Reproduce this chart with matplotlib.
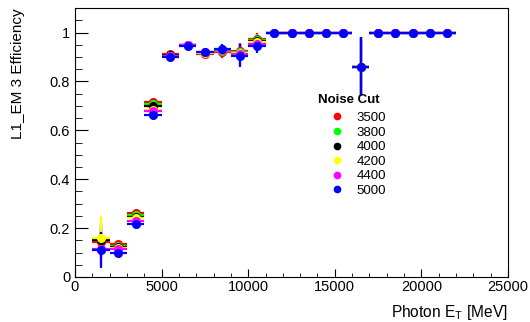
import matplotlib
matplotlib.use('Agg')
import matplotlib.pyplot as plt
from matplotlib.lines import Line2D
from matplotlib.ticker import MultipleLocator

plt.rcParams['font.family'] = ['Liberation Sans', 'DejaVu Sans']

# bin centres of photon E_T [MeV], bin width 1000
et = [1500, 2500, 3500, 4500, 5500, 6500, 7500, 8500, 9500, 10500,
      11500, 12500, 13500, 14500, 15500, 16500, 17500, 18500, 19500, 20500, 21500]
et_err = [500] * len(et)

tail = [1, 1, 1, 1, 1, 0.86, 1, 1, 1, 1, 1]
tail_err = [0, 0, 0, 0, 0, 0.12, 0, 0, 0, 0, 0]

cuts = ['3500', '3800', '4000', '4200', '4400', '5000']
colors = ['#ff0000', '#00ff00', '#000000', '#ffff00', '#ff00ff', '#0000ff']

eff = {
    '3500': [0.145, 0.133, 0.262, 0.716, 0.913, 0.950, 0.913, 0.920, 0.924, 0.974] + tail,
    '3800': [0.150, 0.126, 0.252, 0.709, 0.910, 0.950, 0.915, 0.925, 0.920, 0.970] + tail,
    '4000': [0.150, 0.121, 0.245, 0.698, 0.908, 0.949, 0.917, 0.928, 0.918, 0.965] + tail,
    '4200': [0.158, 0.120, 0.240, 0.684, 0.906, 0.948, 0.918, 0.930, 0.915, 0.960] + tail,
    '4400': [0.115, 0.115, 0.230, 0.679, 0.905, 0.948, 0.920, 0.930, 0.912, 0.955] + tail,
    '5000': [0.110, 0.099, 0.216, 0.661, 0.899, 0.947, 0.920, 0.933, 0.906, 0.947] + tail,
}
eff_err = {
    '3500': [0.05, 0.015, 0.012, 0.010, 0.008, 0.008, 0.015, 0.025, 0.030, 0.025] + tail_err,
    '3800': [0.06, 0.015, 0.012, 0.010, 0.008, 0.008, 0.015, 0.024, 0.032, 0.026] + tail_err,
    '4000': [0.07, 0.015, 0.012, 0.010, 0.008, 0.008, 0.015, 0.023, 0.035, 0.027] + tail_err,
    '4200': [0.09, 0.015, 0.012, 0.010, 0.008, 0.008, 0.015, 0.022, 0.040, 0.028] + tail_err,
    '4400': [0.07, 0.015, 0.012, 0.010, 0.008, 0.008, 0.015, 0.021, 0.044, 0.029] + tail_err,
    '5000': [0.075, 0.015, 0.012, 0.010, 0.008, 0.008, 0.015, 0.020, 0.048, 0.030] + tail_err,
}

fig = plt.figure(figsize=(5.3, 3.22), dpi=100)
ax = fig.add_axes([0.1415, 0.1398, 0.817, 0.835])

for cut, col in zip(cuts, colors):
    ax.errorbar(et, eff[cut], xerr=et_err, yerr=eff_err[cut], fmt='o', color=col,
                markersize=5.5, elinewidth=1.6, capsize=0)

ax.set_xlim(0, 25000)
ax.set_ylim(0, 1.1)
ax.xaxis.set_major_locator(MultipleLocator(5000))
ax.xaxis.set_minor_locator(MultipleLocator(1000))
ax.yaxis.set_major_locator(MultipleLocator(0.2))
ax.yaxis.set_minor_locator(MultipleLocator(0.05))
ax.set_yticks([0, 0.2, 0.4, 0.6, 0.8, 1.0])
ax.set_yticklabels(['0', '0.2', '0.4', '0.6', '0.8', '1'])
ax.tick_params(which='both', direction='in', labelsize=10.5)
ax.tick_params(axis='y', which='major', length=9)
ax.tick_params(axis='y', which='minor', length=5)
ax.tick_params(axis='x', which='major', length=6)
ax.tick_params(axis='x', which='minor', length=3)
ax.tick_params(axis='x', pad=2)

ax.set_xlabel('Photon E$_\\mathregular{T}$ [MeV]', fontsize=11.2, loc='right', labelpad=7)
ax.set_ylabel('L1_EM 3 Efficiency', fontsize=11, loc='top', labelpad=18)

# legend: title as separate text, entries below
ax.text(0.633, 0.658, 'Noise Cut', transform=ax.transAxes, ha='center', va='center',
        fontsize=9.5, fontweight='bold')
handles = [Line2D([], [], marker='o', linestyle='none', color=c, markersize=4.5) for c in colors]
ax.legend(handles, cuts, frameon=False, fontsize=9.5,
          loc='upper left', bbox_to_anchor=(0.584, 0.6245), handlelength=1.0,
          handletextpad=1.0, labelspacing=0.18, borderpad=0.2, borderaxespad=0)

plt.savefig('out.png')
plt.close('all')
